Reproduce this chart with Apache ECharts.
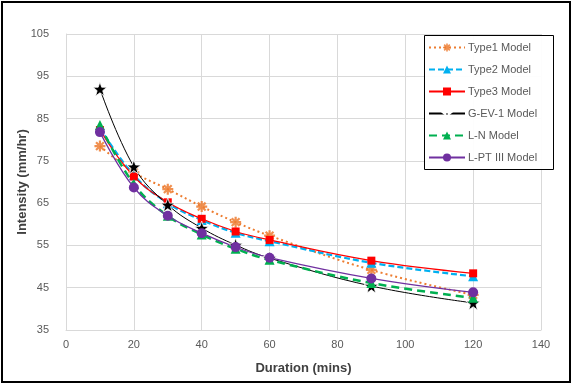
<!DOCTYPE html>
<html><head><meta charset="utf-8">
<script src="https://cdn.jsdelivr.net/npm/echarts@6/dist/echarts.min.js"></script>
<style>html,body{margin:0;padding:0;background:#fff}#c{width:573px;height:386px}</style>
</head><body><div id="c"></div>
<script>
var durations = [10, 20, 30, 40, 50, 60, 90, 120];
var type1 = [78.5, 72.3, 68.3, 64.2, 60.5, 57.3, 49.2, 43.3];
var type2 = [82.8, 71.6, 65.0, 61.0, 58.0, 56.0, 50.9, 47.7];
var type3 = [82.3, 71.3, 65.2, 61.3, 58.3, 56.3, 51.4, 48.4];
var gev1  = [92.0, 73.6, 64.6, 59.1, 55.1, 52.0, 45.4, 41.4];
var ln    = [83.5, 69.5, 62.0, 57.6, 54.2, 51.6, 46.1, 42.6];
var lpt3  = [81.8, 68.7, 62.0, 57.9, 54.6, 52.1, 47.2, 43.9];
var seriesNames = ['Type1 Model', 'Type2 Model', 'Type3 Model', 'G-EV-1 Model', 'L-N Model', 'L-PT III Model'];

function pairs(v){ return durations.map(function(x,i){ return [x, v[i]]; }); }
var asterisk = 'path://M-10,-2L10,-2L10,2L-10,2Z M-2,-10L2,-10L2,10L-2,10Z M-5.66,-8.49L8.49,5.66L5.66,8.49L-8.49,-5.66Z M-8.49,5.66L5.66,-8.49L8.49,-5.66L-5.66,8.49Z';
var star = 'path://M0,-10L2.35,-3.24L9.51,-3.09L3.8,1.24L5.88,8.09L0,4L-5.88,8.09L-3.8,1.24L-9.51,-3.09L-2.35,-3.24Z';

var chart = echarts.init(document.getElementById('c'), null, {renderer:'canvas'});
var font = 'Liberation Sans, Arial, sans-serif';
chart.setOption({
  animation: false,
  textStyle: {fontFamily: font},
  grid: {left: 66, right: 32, top: 34, bottom: 56, containLabel: false, outerBoundsMode: 'none'},
  xAxis: {
    type: 'value', min: 0, max: 140, interval: 20,
    name: 'Duration (mins)', nameLocation: 'middle', nameGap: 32, nameMoveOverlap: false,
    nameTextStyle: {fontSize: 13, fontWeight: 'bold', color: '#404040', fontFamily: font},
    axisLine: {show: true, lineStyle: {color: '#d9d9d9'}},
    axisTick: {show: false},
    axisLabel: {color: '#595959', fontSize: 11, margin: 9, fontFamily: font},
    splitLine: {show: true, lineStyle: {color: '#d9d9d9'}}
  },
  yAxis: {
    type: 'value', min: 35, max: 105, interval: 10,
    name: 'Intensity (mm/hr)', nameLocation: 'middle', nameGap: 37, nameRotate: 90, nameMoveOverlap: false,
    nameTextStyle: {fontSize: 13, fontWeight: 'bold', color: '#404040', fontFamily: font},
    axisLine: {show: true, lineStyle: {color: '#d9d9d9'}},
    axisTick: {show: false},
    axisLabel: {color: '#595959', fontSize: 11, margin: 17, fontFamily: font},
    splitLine: {show: true, lineStyle: {color: '#d9d9d9'}}
  },
  legend: {
    orient: 'vertical', left: 428, top: 42, itemWidth: 36, itemHeight: 10, itemGap: 11,
    padding: 0, z: 5,
    textStyle: {color: '#595959', fontSize: 11, fontFamily: font, padding: [0,0,0,-2]},
    data: seriesNames
  },
  graphic: [
    {type: 'rect', shape: {x: 424.5, y: 35.5, width: 129, height: 134}, style: {fill: 'rgba(255,255,255,0.95)', stroke: '#000', lineWidth: 1}, z: 3, silent: true},
    {type: 'rect', shape: {x: 2, y: 2, width: 568, height: 380}, style: {fill: 'none', stroke: '#000', lineWidth: 2}, z: 10, silent: true}
  ],
  series: [
    {name: seriesNames[0], type: 'line', smooth: 0.4, data: pairs(type1), symbol: asterisk, symbolSize: 11,
      lineStyle: {color: '#ED7D31', width: 2, type: [2, 3]}, itemStyle: {color: '#ED7D31', opacity: 0.85}},
    {name: seriesNames[1], type: 'line', smooth: 0.4, data: pairs(type2), symbol: 'triangle', symbolSize: 10,
      lineStyle: {color: '#00B0F0', width: 2.25, type: [6, 3]}, itemStyle: {color: '#00B0F0'}},
    {name: seriesNames[2], type: 'line', smooth: 0.4, data: pairs(type3), symbol: 'rect', symbolSize: 8,
      lineStyle: {color: '#FF0000', width: 1.25}, itemStyle: {color: '#FF0000'}},
    {name: seriesNames[3], type: 'line', smooth: 0.4, data: pairs(gev1), symbol: star, symbolSize: 14,
      lineStyle: {color: '#000000', width: 1}, itemStyle: {color: '#000000', borderColor: '#ffffff', borderWidth: 0.8}},
    {name: seriesNames[4], type: 'line', smooth: 0.4, data: pairs(ln), symbol: 'triangle', symbolSize: 10,
      lineStyle: {color: '#00B050', width: 2.5, type: [8, 5]}, itemStyle: {color: '#00B050'}},
    {name: seriesNames[5], type: 'line', smooth: 0.4, data: pairs(lpt3), symbol: 'circle', symbolSize: 10,
      lineStyle: {color: '#7030A0', width: 1.25}, itemStyle: {color: '#7030A0'}}
  ]
});
</script></body></html>
